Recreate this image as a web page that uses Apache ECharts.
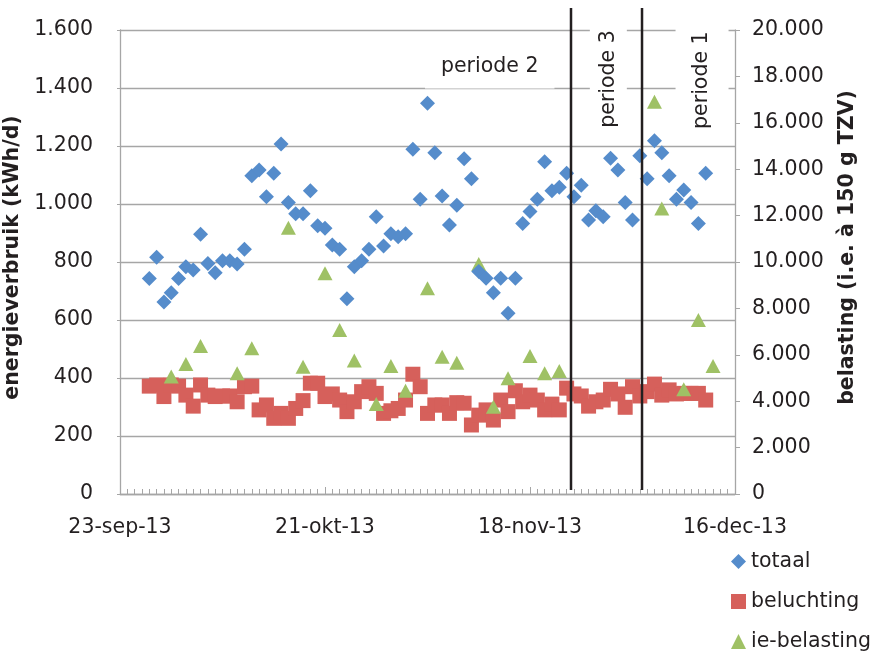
<!DOCTYPE html>
<html>
<head>
<meta charset="utf-8">
<title>energieverbruik</title>
<script src="https://cdn.jsdelivr.net/npm/echarts@6/dist/echarts.min.js"></script>
<style>
  html, body { margin: 0; padding: 0; background: #fff; }
  #chart { width: 877px; height: 652px; }
</style>
</head>
<body>
<div id="chart"></div>
<script>
// x-as: dagen na 23-sep-13, labels om de 28 dagen
var xTickLabels = ['23-sep-13', '21-okt-13', '18-nov-13', '16-dec-13'];

// totaal en beluchting: dagelijks, vanaf dag 4 (27-sep-13)
var eersteDag = 4;
var totaal = [
  743, 816, 662, 694, 743, 784, 772, 896, 795, 763,
  804, 804, 793, 844, 1097, 1117, 1025, 1106, 1207, 1005,
  966, 966, 1046, 925, 916, 859, 844, 673, 784, 804,
  844, 956, 855, 897, 887, 897, 1189, 1016, 1347, 1177,
  1028, 928, 996, 1156, 1087, 767, 744, 694, 744, 623,
  744, 933, 974, 1016, 1146, 1046, 1058, 1106, 1025, 1065,
  945, 977, 956, 1158, 1117, 1005, 945, 1166, 1087, 1218,
  1177, 1097, 1016, 1048, 1005, 933, 1106
];
var beluchting = [
  372, 376, 336, 376, 372, 341, 303, 376, 341, 336,
  338, 338, 318, 370, 372, 290, 307, 261, 278, 261,
  295, 322, 382, 382, 336, 345, 324, 284, 318, 353,
  370, 347, 278, 287, 295, 324, 413, 370, 278, 307,
  307, 278, 315, 313, 238, 272, 290, 255, 324, 284,
  356, 318, 341, 324, 290, 310, 290, 365, 345, 338,
  303, 318, 324, 361, 345, 299, 370, 338, 353, 379,
  341, 359, 345, 347, 347, 347, 324
];

// ie-belasting: losse meetdagen
var belastingDagen = [7, 9, 11, 16, 18, 23, 25, 28, 30, 32, 35, 37, 39, 42, 44, 46, 49, 51, 53, 56, 58, 60, 73, 74, 77, 79, 81];
var belasting = [5060, 5600, 6380, 5200, 6280, 11480, 5490, 9510, 7070, 5750, 3880, 5520, 4450, 8870, 5920, 5660, 9910, 3760, 4990, 5950, 5200, 5300, 16910, 12310, 4510, 7500, 5520];

// grenzen tussen de perioden (dag)
var periodeGrenzen = [61.6, 71.3];

var legendaNamen = ['totaal', 'beluchting', 'ie-belasting'];
var legendaIconen = ['diamond', 'rect', 'triangle'];

function dots(v) {
  return String(v).replace(/\B(?=(\d{3})+(?!\d))/g, '.');
}
function dagSerie(vals) {
  return vals.map(function (v, i) { return [eersteDag + i, v]; });
}

var FONT = 'DejaVu Sans';
var TXT = '#231f20';
var GRIJS = '#a6a6a6';

var chart = echarts.init(document.getElementById('chart'));

var series = [
  {
    name: 'beluchting', type: 'scatter', symbol: 'rect', symbolSize: 15, z: 3,
    itemStyle: { color: '#d6605b', opacity: 1 },
    data: dagSerie(beluchting)
  },
  {
    name: 'ie-belasting', type: 'scatter', symbol: 'triangle', symbolSize: [15, 14], yAxisIndex: 1, z: 4,
    itemStyle: { color: '#9fc165', opacity: 1 },
    data: belastingDagen.map(function (d, i) { return [d, belasting[i]]; })
  },
  {
    name: 'totaal', type: 'scatter', symbol: 'diamond', symbolSize: 15, z: 5,
    itemStyle: { color: '#558ccb', opacity: 1 },
    data: dagSerie(totaal)
  }
];

periodeGrenzen.forEach(function (d, i) {
  var s = {
    type: 'line', clip: false, symbol: 'none', silent: true, z: 6,
    lineStyle: { color: TXT, width: 2.5 },
    data: [[d, 14], [d, 1676]]
  };
  if (i === 0) {
    s.markPoint = {
      symbol: 'rect', symbolSize: 1, silent: true,
      itemStyle: { color: 'rgba(0,0,0,0)' },
      label: {
        show: true, position: 'inside', formatter: '{b}',
        fontFamily: FONT, fontSize: 20.5, color: TXT, backgroundColor: '#fff'
      },
      data: [
        { name: 'periode 2', coord: [50.5, 1472], label: { padding: [10, 16, 12, 16] } },
        { name: 'periode 3', coord: [66.7, 1431], label: { rotate: 90, padding: [8, 8, 8, 8] } },
        { name: 'periode 1', coord: [79.5, 1427], label: { rotate: 90, padding: [16, 8, 16, 8] } }
      ]
    };
  }
  series.push(s);
});

// één legenda per regel, onder elkaar
var legendas = legendaNamen.map(function (naam, i) {
  return {
    orient: 'vertical', left: 731, top: 551 + i * 40, padding: 0,
    itemWidth: 15, itemHeight: 15,
    textStyle: { fontFamily: FONT, fontSize: 20.5, color: TXT, lineHeight: 20 },
    data: [{ name: naam, icon: legendaIconen[i] }]
  };
});

chart.setOption({
  animation: false,
  textStyle: { fontFamily: FONT },
  grid: { left: 120, right: 142, top: 30, bottom: 158, outerBoundsMode: 'none', containLabel: false },
  legend: legendas,
  xAxis: {
    type: 'value', min: 0, max: 84, interval: 28,
    axisLine: { lineStyle: { color: GRIJS, width: 1.3 } },
    axisTick: { inside: true, length: 7, lineStyle: { color: GRIJS } },
    minorTick: { show: true, splitNumber: 28, length: 5, lineStyle: { color: GRIJS } },
    splitLine: { show: false },
    axisLabel: {
      margin: 22, fontFamily: FONT, fontSize: 20.5, color: TXT, lineHeight: 24,
      formatter: function (v) { return xTickLabels[Math.round(v / 28)] || ''; }
    }
  },
  yAxis: [
    {
      type: 'value', min: 0, max: 1600, interval: 200,
      name: 'energieverbruik (kWh/d)', nameLocation: 'middle', nameGap: 88,
      nameTextStyle: { fontFamily: FONT, fontSize: 20.5, fontWeight: 'bold', color: TXT, padding: [0, 0, 0, 9] },
      axisLine: { show: true, lineStyle: { color: GRIJS, width: 1.3 } },
      axisTick: { show: true, length: 3, lineStyle: { color: GRIJS } },
      splitLine: { lineStyle: { color: GRIJS, width: 1.3 } },
      axisLabel: { margin: 27, fontFamily: FONT, fontSize: 20.5, color: TXT, formatter: dots }
    },
    {
      type: 'value', min: 0, max: 20000, interval: 2000, position: 'right',
      name: 'belasting (i.e. à 150 g TZV)', nameLocation: 'middle', nameGap: 102,
      nameTextStyle: { fontFamily: FONT, fontSize: 20.5, fontWeight: 'bold', color: TXT, padding: [0, 0, 0, 29] },
      axisLine: { show: true, lineStyle: { color: GRIJS, width: 1.3 } },
      axisTick: { show: true, length: 5, lineStyle: { color: GRIJS } },
      splitLine: { show: false },
      axisLabel: { margin: 17, fontFamily: FONT, fontSize: 20.5, color: TXT, formatter: dots }
    }
  ],
  series: series
});
</script>
</body>
</html>
